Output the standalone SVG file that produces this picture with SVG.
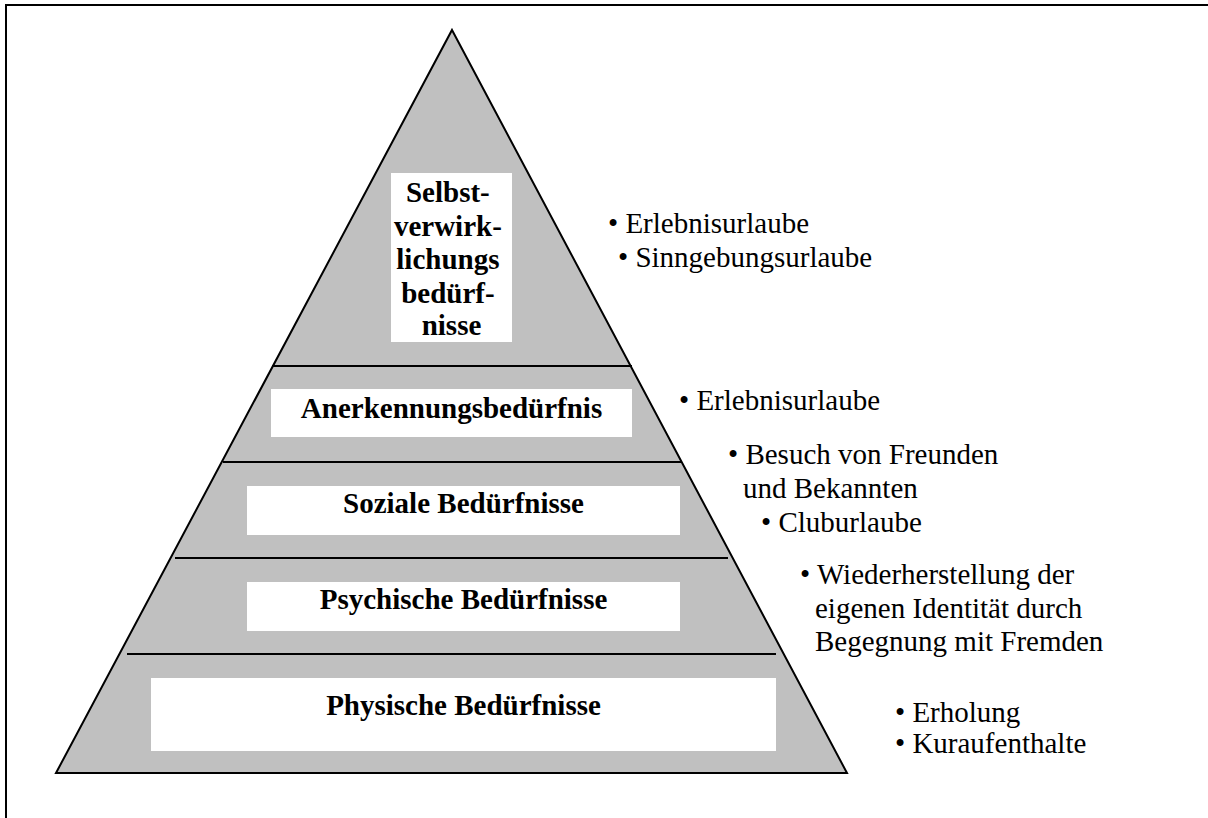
<svg xmlns="http://www.w3.org/2000/svg" width="1208" height="818" viewBox="0 0 1208 818">
  <style>
    .frame { stroke: #000; stroke-width: 2; fill: none; }
    .pyramid { fill: #c0c0c0; stroke: #000; stroke-width: 2; stroke-linejoin: miter; }
    .divider { stroke: #000; stroke-width: 2; }
    .box { fill: #fff; }
    .label { font-family: "Liberation Serif", "Times New Roman", serif; font-size: 29px; font-weight: bold; fill: #000; text-anchor: middle; }
    .note { font-family: "Liberation Serif", "Times New Roman", serif; font-size: 29px; fill: #000; }
  </style>

  <rect width="1208" height="818" fill="#fff"/>

  <!-- page frame: only the top and left edges are visible -->
  <g id="frame">
    <line class="frame" x1="5" y1="5" x2="1208" y2="5"/>
    <line class="frame" x1="6" y1="4" x2="6" y2="818"/>
  </g>

  <!-- pyramid body -->
  <g id="pyramid">
    <polygon class="pyramid" points="452,30 847,773 56,773"/>
  </g>

  <!-- tier separators -->
  <g id="dividers">
    <line class="divider" x1="272" y1="366" x2="632" y2="366"/>
    <line class="divider" x1="223" y1="462" x2="681" y2="462"/>
    <line class="divider" x1="175" y1="558" x2="728" y2="558"/>
    <line class="divider" x1="127" y1="654" x2="776" y2="654"/>
  </g>

  <g id="tier-selbstverwirklichung">
    <rect class="box" x="391" y="173" width="121" height="169"/>
    <text class="label">
      <tspan x="451.5" y="202">Selbst-</tspan>
      <tspan x="451.5" y="236">verwirk-</tspan>
      <tspan x="451.5" y="269">lichungs</tspan>
      <tspan x="451.5" y="303">bedürf-</tspan>
      <tspan x="451.5" y="335">nisse</tspan>
    </text>
  </g>

  <g id="tier-anerkennung">
    <rect class="box" x="271" y="389" width="361" height="48"/>
    <text class="label" x="451.5" y="418">Anerkennungsbedürfnis</text>
  </g>

  <g id="tier-sozial">
    <rect class="box" x="247" y="486" width="433" height="49"/>
    <text class="label" x="463.5" y="513">Soziale Bedürfnisse</text>
  </g>

  <g id="tier-psychisch">
    <rect class="box" x="247" y="582" width="433" height="49"/>
    <text class="label" x="463.5" y="609">Psychische Bedürfnisse</text>
  </g>

  <g id="tier-physisch">
    <rect class="box" x="151" y="678" width="625" height="73"/>
    <text class="label" x="463.5" y="715">Physische Bedürfnisse</text>
  </g>

  <!-- travel motives next to each tier -->
  <g id="notes-selbstverwirklichung">
    <text class="note" x="608" y="233">• Erlebnisurlaube</text>
    <text class="note" x="618" y="267">• Sinngebungsurlaube</text>
  </g>

  <g id="notes-anerkennung">
    <text class="note" x="679" y="410">• Erlebnisurlaube</text>
  </g>

  <g id="notes-sozial">
    <text class="note" x="728" y="464">• Besuch von Freunden</text>
    <text class="note" x="743" y="498">und Bekannten</text>
    <text class="note" x="761" y="532">• Cluburlaube</text>
  </g>

  <g id="notes-psychisch">
    <text class="note" x="800" y="584">• Wiederherstellung der</text>
    <text class="note" x="815" y="618">eigenen Identität durch</text>
    <text class="note" x="815" y="651">Begegnung mit Fremden</text>
  </g>

  <g id="notes-physisch">
    <text class="note" x="895" y="722">• Erholung</text>
    <text class="note" x="895" y="753">• Kuraufenthalte</text>
  </g>

  <!-- no connectors in this figure -->
  <g id="connectors"/>
</svg>
